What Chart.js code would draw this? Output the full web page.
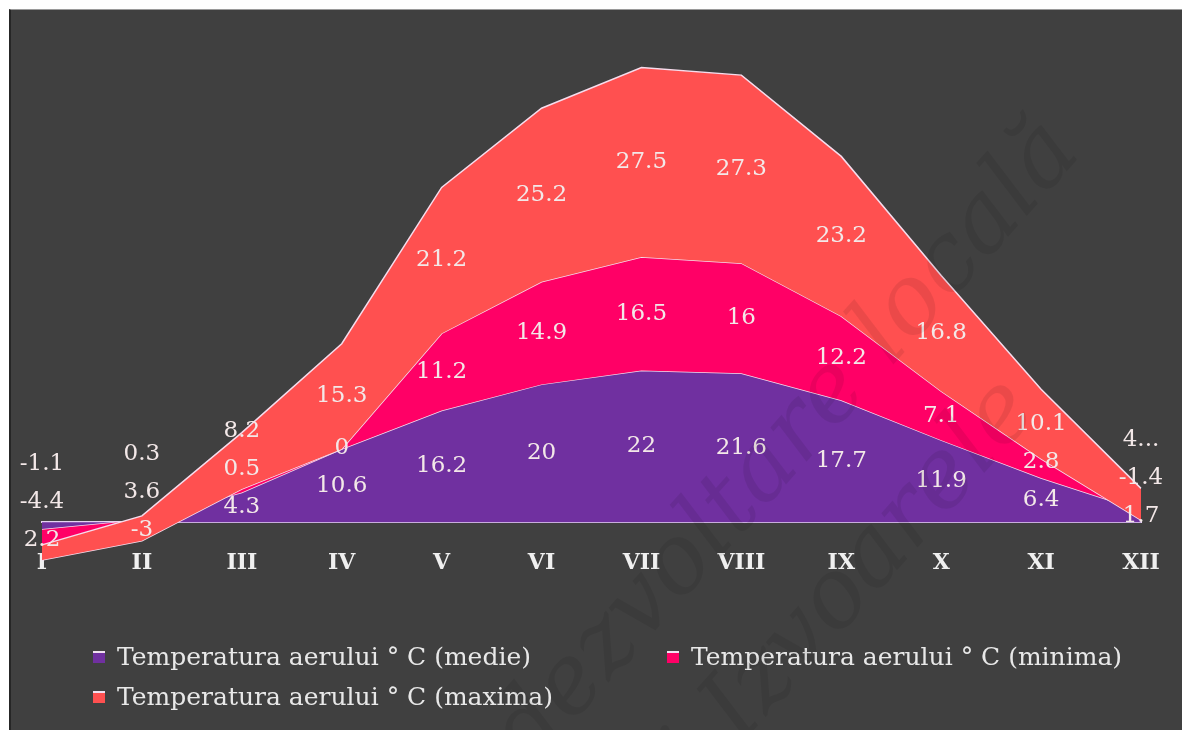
<!DOCTYPE html>
<html>
<head>
<meta charset="utf-8">
<script src="https://cdn.jsdelivr.net/npm/chart.js@4.4.1/dist/chart.umd.min.js"></script>
<style>
  html, body { margin: 0; padding: 0; background: #ffffff; }
  #frame {
    position: absolute; left: 9px; top: 9px; width: 1173px; height: 721px;
    background: #404040; border-left: 2px solid #262626; border-top: 1px solid #9a9a9a;
    box-sizing: border-box;
  }
  #wrap { position: absolute; left: 0; top: 0; width: 1182px; height: 730px; }
</style>
</head>
<body>
<div id="frame"></div>
<div id="wrap"><canvas id="chart"></canvas></div>
<script>
// months
const months = ["I", "II", "III", "IV", "V", "VI", "VII", "VIII", "IX", "X", "XI", "XII"]

// temperatures, degrees C
const medie  = [-1.1, 0.3, 4.3, 10.6, 16.2, 20, 22, 21.6, 17.7, 11.9, 6.4, 1.7]
const minima = [-4.4, -3, 0.5, 0, 11.2, 14.9, 16.5, 16, 12.2, 7.1, 2.8, -1.4]
const maxima = [2.2, 3.6, 8.2, 15.3, 21.2, 25.2, 27.5, 27.3, 23.2, 16.8, 10.1, 4.6]

const seriesNames = [
    "Temperatura aerului ° C (medie)",
    "Temperatura aerului ° C (minima)",
    "Temperatura aerului ° C (maxima)"
]
const seriesColors = ["#7030a0", "#ff0066", "#ff5050"]

// Excel cut the last label of the maxima series off at the right edge
const clippedLabels = { 2: { 11: "4..." } }

const series = [medie, minima, maxima]

// stacked area like in Excel: each series sits on top of the previous one
// (done by hand so the last series can be painted on top)
const stacked = []
series.forEach((s, k) => {
    stacked.push(s.map((v, i) => k === 0 ? v : stacked[k - 1][i] + v))
})

const LABEL_FONT = '23px "DejaVu Serif"'

// value labels, centred in each band, pushed apart when they collide
const bandLabels = {
    id: "bandLabels",
    afterDatasetsDraw(chart) {
        const { ctx, scales: { x, y } } = chart
        ctx.save()
        ctx.font = LABEL_FONT
        ctx.textAlign = "center"
        ctx.textBaseline = "middle"
        ctx.fillStyle = "#f3e8e8"
        const floor = y.getPixelForValue(0) + 18
        months.forEach((m, i) => {
            const items = series.map((s, k) => {
                const lo = k === 0 ? 0 : stacked[k - 1][i]
                const hi = stacked[k][i]
                let text = String(s[i])
                if (clippedLabels[k] && clippedLabels[k][i]) text = clippedLabels[k][i]
                return { text, y: (y.getPixelForValue(lo) + y.getPixelForValue(hi)) / 2 }
            })
            items.sort((a, b) => b.y - a.y)
            let prev = null
            items.forEach(it => {
                it.py = prev === null ? Math.min(it.y, floor) : Math.min(it.y, prev - 38)
                prev = it.py
            })
            const px = x.getPixelForValue(i)
            items.forEach(it => ctx.fillText(it.text, px, it.py))
        })
        ctx.restore()
    }
}

// legend laid out in two columns like the original
const sideLegend = {
    id: "sideLegend",
    afterDraw(chart) {
        const { ctx } = chart
        const spots = [[93, 657], [667, 657], [93, 697]]
        ctx.save()
        ctx.font = '25px "DejaVu Serif"'
        ctx.textBaseline = "middle"
        chart.data.datasets.forEach(ds => {
            const [lx, ly] = spots[ds.seriesIndex]
            ctx.fillStyle = seriesColors[ds.seriesIndex]
            ctx.fillRect(lx, ly - 6, 12, 12)
            ctx.fillStyle = "#f0e0f0"
            ctx.fillRect(lx, ly - 6, 12, 2)
            ctx.fillStyle = "#e8e8e8"
            ctx.fillText(seriesNames[ds.seriesIndex], lx + 24, ly + 1)
        })
        ctx.restore()
    }
}

// faint watermark across the chart
const watermark = {
    id: "watermark",
    afterDraw(chart) {
        const { ctx } = chart
        ctx.save()
        ctx.fillStyle = "rgba(0, 0, 0, 0.08)"
        ctx.font = 'italic 96px "DejaVu Serif"'
        ctx.translate(530, 770)
        ctx.rotate(-0.84)
        ctx.fillText("dezvoltare locală", 0, 0)
        ctx.restore()
        ctx.save()
        ctx.fillStyle = "rgba(0, 0, 0, 0.08)"
        ctx.font = 'italic 96px "DejaVu Serif"'
        ctx.translate(700, 790)
        ctx.rotate(-0.84)
        ctx.fillText("i Izvoarele", 0, 0)
        ctx.restore()
    }
}

const datasets = series.map((s, k) => ({
    label: seriesNames[k],
    seriesIndex: k,
    data: stacked[k],
    backgroundColor: seriesColors[k],
    borderColor: "#f6dcec",
    borderWidth: 1.5,
    pointRadius: 0,
    tension: 0,
    fill: k === 0 ? "origin" : "-1",
    order: 2 - k
}))

new Chart(document.getElementById("chart"), {
    type: "line",
    data: { labels: months, datasets: datasets },
    options: {
        responsive: true,
        maintainAspectRatio: false,
        animation: false,
        devicePixelRatio: 1,
        layout: { padding: { left: 42, right: 41, top: 40, bottom: 139 } },
        plugins: {
            legend: { display: false },
            tooltip: { enabled: false }
        },
        scales: {
            y: { display: false, min: -10, max: 70 },
            x: {
                position: { y: 0 },
                offset: false,
                z: 1,
                grid: { display: false },
                border: { display: true, color: "#e6d6f2", width: 2 },
                ticks: {
                    color: "#f0f0f0",
                    padding: 20,
                    maxRotation: 0,
                    font: { family: "DejaVu Serif", size: 22, weight: "bold" }
                }
            }
        }
    },
    plugins: [bandLabels, sideLegend, watermark]
})
</script>
</body>
</html>
